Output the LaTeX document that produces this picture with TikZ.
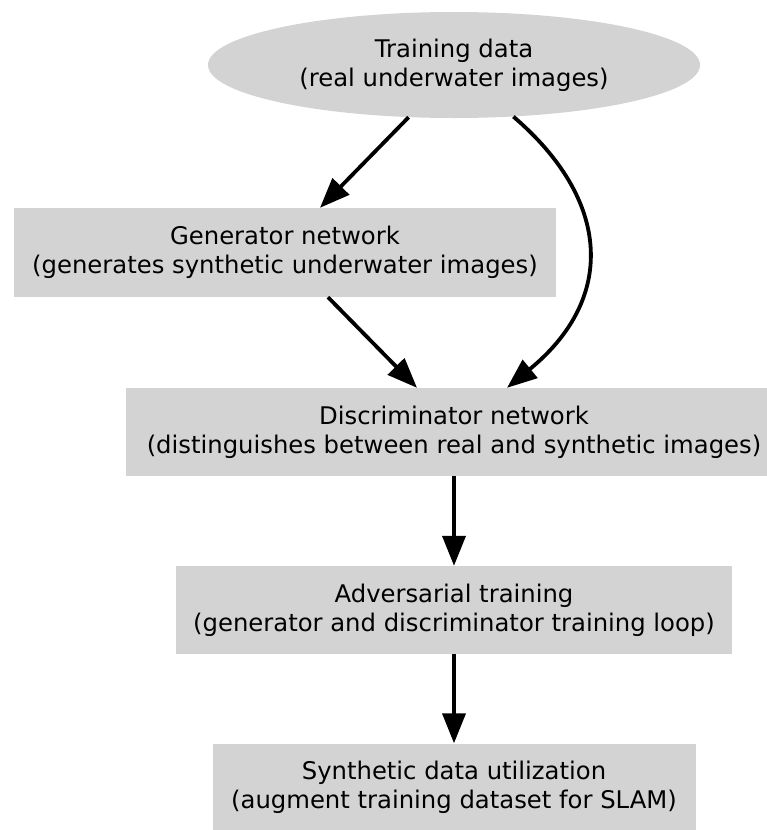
\documentclass[tikz,border=0pt]{standalone}
\usepackage{fontspec}
\setmainfont{DejaVu Sans}
\usetikzlibrary{arrows.meta,shapes.geometric}
\definecolor{nodegray}{HTML}{D3D3D3}
\tikzset{
  base/.style={fill=nodegray, draw=none, align=center, inner sep=0pt,
    font=\fontsize{24.3}{29}\selectfont},
  box/.style={base, rectangle},
  oval/.style={base, ellipse},
  flow/.style={line width=3.8pt, -{Triangle[length=30pt, width=23pt]}}
}
\begin{document}
\begin{tikzpicture}[x=1pt, y=1pt]
  \useasboundingbox (0,0) rectangle (767,-830);

  \node[oval, minimum width=492pt, minimum height=106pt] (train) at (454,-65)
    {Training data\\(real underwater images)};
  \node[box, minimum width=542pt, minimum height=89pt] (gen) at (285,-252.5)
    {Generator network\\(generates synthetic underwater images)};
  \node[box, minimum width=656pt, minimum height=88pt] (disc) at (454,-432)
    {Discriminator network\\(distinguishes between real and synthetic images)};
  \node[box, minimum width=556pt, minimum height=88pt] (adv) at (454,-610)
    {Adversarial training\\(generator and discriminator training loop)};
  \node[box, minimum width=483pt, minimum height=87pt] (syn) at (454,-787)
    {Synthetic data utilization\\(augment training dataset for SLAM)};

  \draw[flow] (train.-131) -- ([xshift=35pt]gen.north);
  \draw[flow] (train.-41) .. controls ++(97,-83) and ++(110,90) .. ([xshift=53pt]disc.north);
  \draw[flow] ([xshift=43pt]gen.south) -- ([xshift=-37pt]disc.north);
  \draw[flow] (disc.south) -- (adv.north);
  \draw[flow] (adv.south) -- (syn.north);
\end{tikzpicture}
\end{document}
